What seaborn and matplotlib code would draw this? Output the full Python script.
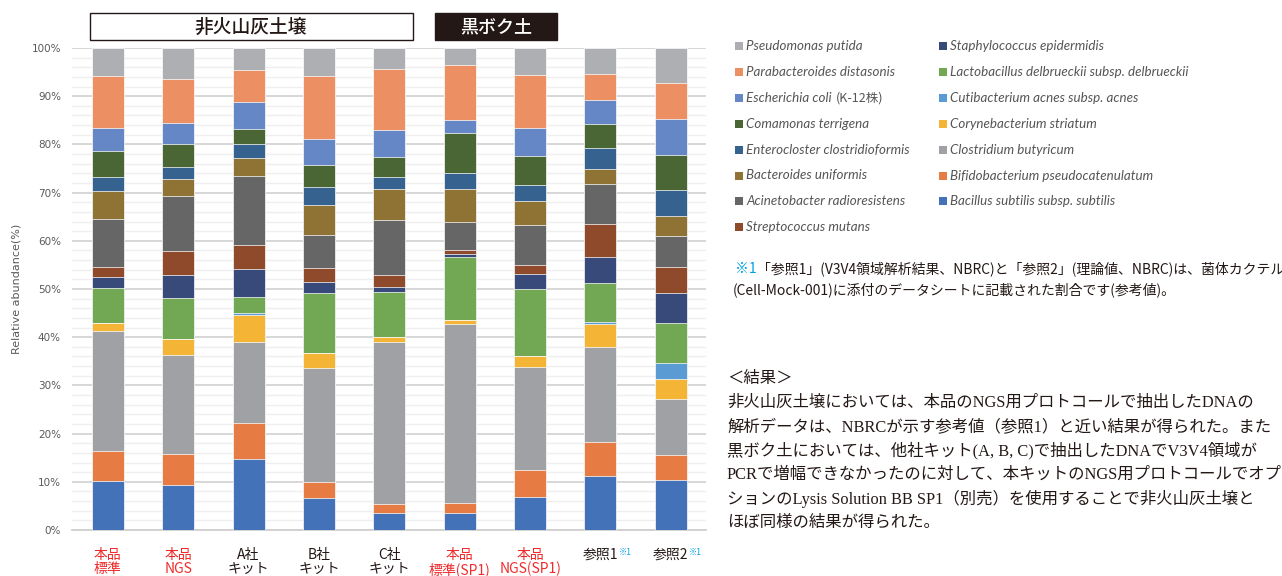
import matplotlib
matplotlib.use("Agg")
import matplotlib.pyplot as plt
from matplotlib.patches import Rectangle
from matplotlib.ticker import PercentFormatter, MultipleLocator
import pandas as pd
import seaborn as sns

# samples (x axis)
samples = ["本品\n標準", "本品\nNGS", "A社\nキット", "B社\nキット", "C社\nキット",
           "本品\n標準(SP1)", "本品\nNGS(SP1)", "参照1", "参照2"]
sample_colors = ["#F02B2B", "#F02B2B", "#231815", "#231815", "#231815",
                 "#F02B2B", "#F02B2B", "#231815", "#231815"]

# relative abundance (%) per species
bacillus = [10.2, 9.3, 14.8, 6.7, 3.6, 3.6, 6.9, 11.3, 10.3]
bifido = [6.2, 6.5, 7.3, 3.3, 1.7, 1.9, 5.5, 7.0, 5.3]
clostridium = [24.9, 20.6, 17.0, 23.7, 33.6, 37.3, 21.5, 19.7, 11.6]
coryne = [1.6, 3.2, 5.6, 3.0, 1.1, 0.8, 2.3, 4.8, 4.2]
cuti = [0.0, 0.0, 0.3, 0.0, 0.0, 0.0, 0.0, 0.3, 3.2]
lacto = [7.4, 8.5, 3.4, 12.4, 9.3, 13.0, 13.9, 8.1, 8.4]
staph = [2.2, 4.9, 5.7, 2.4, 1.1, 0.7, 3.0, 5.5, 6.3]
strep = [2.1, 4.8, 5.0, 2.8, 2.5, 0.8, 1.9, 6.7, 5.4]
acineto = [10.0, 11.4, 14.3, 6.8, 11.3, 5.7, 8.2, 8.3, 6.3]
bacteroides = [5.8, 3.7, 3.7, 6.3, 6.4, 6.9, 5.0, 3.2, 4.2]
entero = [2.8, 2.4, 3.0, 3.7, 2.6, 3.3, 3.4, 4.3, 5.4]
comamonas = [5.5, 4.7, 3.0, 4.7, 4.2, 8.3, 5.9, 5.1, 7.3]
ecoli = [4.6, 4.5, 5.6, 5.4, 5.6, 2.7, 5.8, 5.0, 7.4]
parabact = [10.8, 9.0, 6.7, 12.9, 12.5, 11.4, 11.0, 5.3, 7.5]
pseudo = [5.9, 6.5, 4.6, 5.9, 4.4, 3.6, 5.7, 5.4, 7.3]

# bottom of the stack first
species = ["Bacillus subtilis subsp. subtilis", "Bifidobacterium pseudocatenulatum",
           "Clostridium butyricum", "Corynebacterium striatum",
           "Cutibacterium acnes subsp. acnes", "Lactobacillus delbrueckii subsp. delbrueckii",
           "Staphylococcus epidermidis", "Streptococcus mutans",
           "Acinetobacter radioresistens", "Bacteroides uniformis",
           "Enterocloster clostridioformis", "Comamonas terrigena",
           "Escherichia coli", "Parabacteroides distasonis", "Pseudomonas putida"]
values = [bacillus, bifido, clostridium, coryne, cuti, lacto, staph, strep,
          acineto, bacteroides, entero, comamonas, ecoli, parabact, pseudo]
colors = ["#4472B8", "#E67C43", "#A0A1A5", "#F4B537", "#5A9BD3", "#72A853",
          "#374A7A", "#8F4A2B", "#666666", "#8E7334", "#35628E", "#4A6634",
          "#6587C6", "#EC8F63", "#AEAFB3"]

W, H = 1282, 576

sns.set_theme(style="white")
plt.rcParams['font.family'] = ['Noto Sans CJK JP', 'DejaVu Sans']

df = pd.DataFrame(dict(zip(species, values)), index=samples)
df = df.div(df.sum(axis=1), axis=0) * 100
cum = df.cumsum(axis=1)
cum["sample"] = samples

fig = plt.figure(figsize=(W / 100, H / 100), dpi=100)
ax = fig.add_axes([72 / W, 1 - 530 / H, 634 / W, 482 / H])

# draw the cumulative totals from the top down so each layer covers the next
for sp, col in reversed(list(zip(species, colors))):
    sns.barplot(data=cum, x="sample", y=sp, color=col, saturation=1, width=0.455,
                edgecolor="white", linewidth=0.5, errorbar=None, ax=ax, zorder=3)

ax.set_ylim(0, 100)
ax.set_xlim(-0.51, 8.5)
ax.yaxis.set_major_locator(MultipleLocator(10))
ax.yaxis.set_minor_locator(MultipleLocator(2))
ax.yaxis.set_major_formatter(PercentFormatter(decimals=0))
ax.grid(True, axis="y", which="major", color="#D4D4D4", lw=1.3, zorder=0)
ax.grid(True, axis="y", which="minor", color="#EFEFEF", lw=1.0, zorder=0)
ax.grid(False, axis="x")
for s in ["top", "right", "left"]:
    ax.spines[s].set_visible(False)
ax.spines["bottom"].set_color("#CFCFCF")
ax.spines["bottom"].set_linewidth(1.3)
ax.tick_params(axis="y", length=0, pad=8, labelsize=7.5, labelcolor="#595959")
ax.tick_params(axis="x", length=0, pad=13)
for lab in ax.get_yticklabels():
    lab.set_fontfamily("DejaVu Sans")
ax.set_xlabel("")
ax.set_ylabel("Relative abundance(%)", fontsize=8, color="#595959",
              fontfamily="DejaVu Sans", labelpad=7)

ax.set_xticks(range(len(samples)))
ax.set_xticklabels(samples, fontsize=10, linespacing=1.0, va="top")
for lab, c in zip(ax.get_xticklabels(), sample_colors):
    lab.set_color(c)
for i in [7, 8]:
    ax.annotate("※1", xy=(i, 0), xycoords=("data", "axes fraction"),
                xytext=(13, -16), textcoords="offset points", fontsize=6,
                color="#00A0E9", va="center", ha="left", annotation_clip=False)


def px(x, y):
    return x / W, 1 - y / H


# group header boxes
fig.add_artist(Rectangle(px(90, 40), 323 / W, 27 / H, transform=fig.transFigure,
                         facecolor="white", edgecolor="#231815", lw=1.0))
fig.text(*px(251, 27), "非火山灰土壌", ha="center", va="center", fontsize=13.5,
         color="#231815", fontweight="medium")
fig.add_artist(Rectangle(px(435, 40), 122 / W, 27 / H, transform=fig.transFigure,
                         facecolor="#231815", edgecolor="#231815", lw=1.0))
fig.text(*px(496, 27), "黒ボク土", ha="center", va="center", fontsize=13,
         color="white", fontweight="medium")

# legend, two columns like the original
leg_order = list(reversed(range(len(species))))
for k, idx in enumerate(leg_order):
    col, row = divmod(k, 8)
    mx = [735, 939][col]
    y = 46 + row * 25.9
    fig.add_artist(Rectangle(px(mx, y + 4), 8 / W, 8 / H, transform=fig.transFigure,
                             facecolor=colors[idx], edgecolor="none"))
    name = species[idx]
    t = fig.text(*px(mx + 11, y), name, ha="left", va="center", fontsize=9.6,
                 style="italic", color="#555555", fontfamily=["Lato", "DejaVu Sans"])
    if name == "Escherichia coli":
        ax.annotate("(K-12株)", xy=(1, 0.5), xycoords=t, xytext=(3, 0),
                    textcoords="offset points", va="center", ha="left", fontsize=9,
                    color="#555555", annotation_clip=False)

# footnote
t1 = fig.text(*px(735, 269), "※1", ha="left", va="center", fontsize=10, color="#00A0E9")
ax.annotate("「参照1」(V3V4領域解析結果、NBRC)と「参照2」(理論値、NBRC)は、菌体カクテル",
            xy=(1, 0.5), xycoords=t1, xytext=(0, 0), textcoords="offset points",
            va="center", ha="left", fontsize=10, color="#231815", annotation_clip=False)
fig.text(*px(733, 290), "(Cell-Mock-001)に添付のデータシートに記載された割合です(参考値)。",
         ha="left", va="center", fontsize=10, color="#231815")

# results paragraph
result_lines = [
    "＜結果＞",
    "非火山灰土壌においては、本品のNGS用プロトコールで抽出したDNAの",
    "解析データは、NBRCが示す参考値（参照1）と近い結果が得られた。また",
    "黒ボク土においては、他社キット(A, B, C)で抽出したDNAでV3V4領域が",
    "PCRで増幅できなかったのに対して、本キットのNGS用プロトコールでオプ",
    "ションのLysis Solution BB SP1（別売）を使用することで非火山灰土壌と",
    "ほぼ同様の結果が得られた。",
]
for i, line in enumerate(result_lines):
    fig.text(*px(727, 379 + i * 23.9), line, ha="left", va="center", fontsize=11.8,
             color="#231815", fontfamily=["Liberation Serif", "Noto Sans CJK JP"])

fig.savefig("out.png", dpi=100)
